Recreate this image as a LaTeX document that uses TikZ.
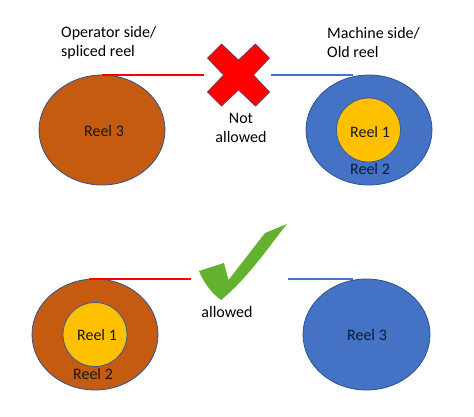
\documentclass[tikz,border=0pt]{standalone}
\usepackage{fontspec}
\setmainfont{Carlito}
\usetikzlibrary{shapes.geometric}
\definecolor{reelbrown}{HTML}{C55A11}
\definecolor{reelblue}{HTML}{4472C4}
\definecolor{reelyellow}{HTML}{FFC000}
\definecolor{edgeblue}{HTML}{2F528F}
\definecolor{okgreen}{HTML}{62B22F}
\definecolor{navytext}{HTML}{0E1B3A}
\begin{document}
\begin{tikzpicture}[x=1pt,y=-1pt,
  reel/.style={ellipse,draw=edgeblue,line width=0.8pt,inner sep=0pt,minimum width=126pt,minimum height=110pt},
  core/.style={circle,draw=edgeblue!80!gray,line width=0.8pt,fill=reelyellow,inner sep=0pt,minimum size=64pt},
  lbl/.style={font=\fontsize{16}{19.5}\selectfont,inner sep=0pt},
  web/.style={line width=1.6pt}]
\useasboundingbox (0,0) rectangle (474,416);
% top row
\node[reel,fill=reelbrown] (r3a) at (102,130) {};
\node[lbl,text=black!90] (t3a) at (104,131) {Reel 3};
\node[reel,fill=reelblue] (r2a) at (369,130) {};
\node[core] (r1a) at (368.5,130) {};
\node[lbl,text=black!90] (t1a) at (370,132) {Reel 1};
\node[lbl,text=navytext] (t2a) at (370,169) {Reel 2};
\coordinate (ra) at (102,75);
\coordinate (xl) at (204,75);
\coordinate (xr) at (271,75);
\coordinate (ba) at (353,75);
\draw[web,red] (ra) -- (xl);
\draw[web,reelblue] (xr) -- (ba);
\node[lbl,align=left,anchor=west] (op) at (61,42.5) {Operator side/\\spliced reel};
\node[lbl,align=left,anchor=west] (ma) at (327,42.5) {Machine side/\\Old reel};
\node[lbl,align=center] (na) at (241,128) {Not\\allowed};
\begin{scope}[shift={(238.5,75)}]
\fill[red,draw=edgeblue!70!red,line width=0.7pt]
  (0,-15) -- (17,-31) -- (31,-17) -- (15,0) -- (31,17) -- (17,31) -- (0,15)
  -- (-17,31) -- (-31,17) -- (-15,0) -- (-31,-17) -- (-17,-31) -- cycle;
\end{scope}
% bottom row
\node[reel,fill=reelbrown,minimum height=111pt] (r2b) at (95,334.5) {};
\node[core] (r1b) at (95,334.5) {};
\node[lbl,text=black!90] (t1b) at (97,335) {Reel 1};
\node[lbl,text=black!90] (t2b) at (93,374) {Reel 2};
\node[reel,fill=reelblue,minimum width=127pt,minimum height=111pt] (r3b) at (366.5,334.5) {};
\node[lbl,text=navytext] (t3b) at (367,335) {Reel 3};
\coordinate (rb) at (89,279);
\coordinate (cl) at (191,279);
\coordinate (cr) at (288,279);
\coordinate (bb) at (353,279);
\draw[web,red] (rb) -- (cl);
\draw[web,reelblue] (cr) -- (bb);
\fill[okgreen] (199,271) -- (224,263) -- (228.5,280) -- (265,233) -- (287,224)
  .. controls (270,245) and (248,278) .. (221,300)
  .. controls (210,292) and (203,281) .. cycle;
\node[lbl] (al) at (227,312) {allowed};
\end{tikzpicture}
\end{document}
